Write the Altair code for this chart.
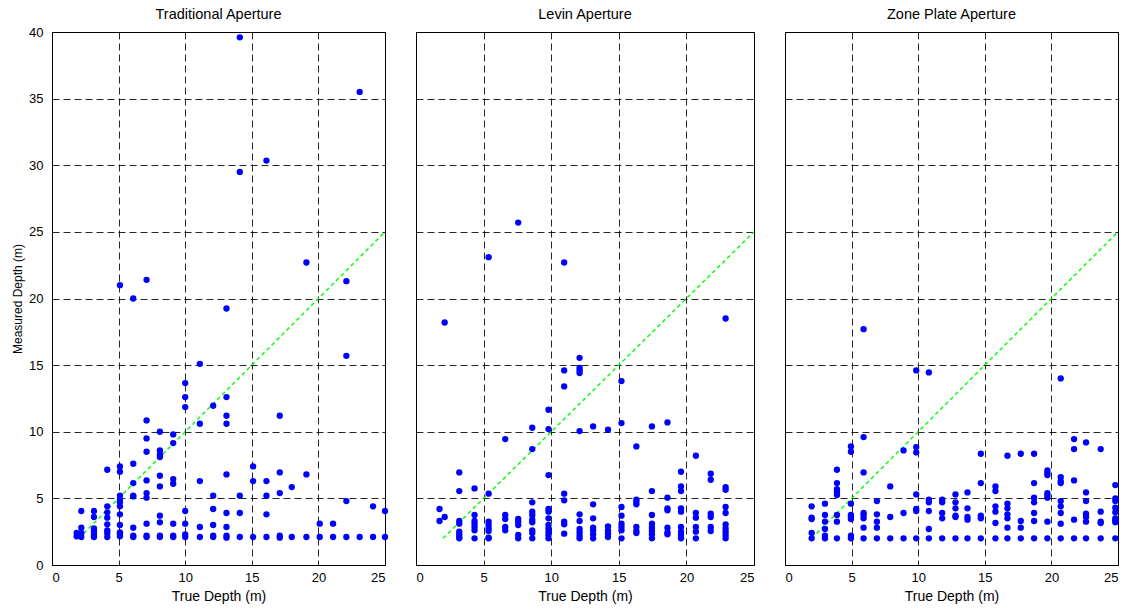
import altair as alt
import pandas as pd

FONT = "Liberation Sans"

# True depth of each test position (m) and the depths measured there (m)
trad_true = [1.85, 2.2, 3.15, 4.15, 5.1, 6.1, 7.1, 8.1, 9.1, 10.0, 11.1, 12.1,
             13.1, 14.1, 15.1, 16.1, 17.1, 18.0, 19.1, 20.1, 21.1, 22.1, 23.1,
             24.1, 25.0]
trad_measured = [
    [2.4, 2.15],
    [4.05, 2.8, 2.4, 2.1],
    [4.05, 3.6, 2.75, 2.55, 2.4, 2.2, 2.1],
    [7.15, 4.4, 3.95, 3.55, 3.05, 2.6, 2.4, 2.1],
    [21.0, 7.4, 7.0, 5.2, 4.9, 4.7, 4.4, 3.8, 3.0, 2.45, 2.3, 2.15],
    [20.0, 7.6, 6.15, 5.2, 5.15, 2.8, 2.2, 2.1],
    [21.4, 10.85, 9.5, 8.5, 6.35, 5.4, 5.05, 3.1, 2.2, 2.1],
    [10.0, 8.6, 8.3, 8.1, 6.7, 5.9, 3.7, 3.2, 2.2, 2.1],
    [9.8, 9.15, 6.45, 6.1, 3.1, 2.2, 2.1],
    [13.65, 12.6, 11.85, 4.05, 3.1, 2.3, 2.1],
    [15.1, 10.6, 6.3, 2.85, 2.1],
    [11.95, 5.2, 4.2, 3.0, 2.2, 2.1],
    [19.25, 12.6, 11.2, 10.6, 6.8, 3.9, 2.85, 2.2, 2.05],
    [39.6, 29.5, 5.2, 3.9, 2.1],
    [7.4, 6.3, 2.1],
    [30.35, 6.3, 5.2, 3.8, 2.1],
    [11.2, 6.95, 5.4, 2.2, 2.05],
    [5.85, 2.1],
    [22.7, 6.8, 2.1],
    [3.1, 2.1],
    [3.1, 2.1],
    [21.3, 15.7, 4.8, 2.1],
    [35.5, 2.1],
    [4.4, 2.1],
    [4.05, 2.1],
]

levin_true = [1.74, 2.12, 3.2, 4.33, 5.37, 6.6, 7.56, 8.6, 9.8, 10.96, 12.1,
              13.1, 14.2, 15.2, 16.3, 17.45, 18.6, 19.6, 20.7, 21.8, 22.9]
levin_measured = [
    [4.2, 3.3],
    [18.2, 3.6],
    [6.95, 5.55, 3.3, 3.1, 2.5, 2.3, 2.1, 2.0],
    [5.75, 3.75, 3.3, 3.1, 2.85, 2.6, 2.0],
    [23.1, 5.35, 3.25, 3.0, 2.75, 2.55, 2.05, 2.0],
    [9.45, 3.75, 3.45, 2.85, 2.6],
    [25.7, 3.45, 3.25, 3.0, 2.25, 2.0],
    [10.3, 8.7, 4.7, 4.0, 3.75, 3.4, 3.2, 2.6, 2.4, 2.0],
    [11.65, 10.2, 6.75, 4.2, 4.0, 3.5, 3.0, 2.75, 2.5, 2.25, 2.0],
    [22.7, 14.6, 13.4, 5.35, 4.85, 3.25, 3.05, 2.35],
    [15.55, 14.8, 14.6, 14.4, 10.05, 3.8, 3.3, 2.7, 2.45, 2.2, 2.0],
    [10.4, 4.55, 3.5, 2.8, 2.6, 2.3, 2.0],
    [10.15, 2.9, 2.6, 2.35, 2.1],
    [13.8, 10.65, 4.35, 3.7, 3.1, 2.85, 2.6, 2.0],
    [8.9, 4.9, 4.75, 4.55, 2.85, 2.55, 2.4],
    [10.4, 5.55, 3.75, 3.1, 2.8, 2.55, 2.3, 2.0],
    [10.7, 5.05, 4.25, 4.1, 2.8, 2.45, 2.3],
    [7.0, 5.9, 5.55, 4.25, 4.0, 2.85, 2.5, 2.25, 2.0],
    [8.2, 3.9, 3.55, 2.85, 2.5, 2.0],
    [6.85, 6.4, 3.85, 3.6, 2.85, 2.55],
    [18.5, 5.85, 5.65, 4.35, 3.9, 3.05, 2.75, 2.5, 2.25, 2.0],
]

zone_true = [2.0, 3.0, 3.9, 4.95, 5.9, 6.9, 7.9, 8.9, 9.85, 10.8, 11.8, 12.8,
             13.7, 14.7, 15.8, 16.7, 17.7, 18.7, 19.7, 20.7, 21.7, 22.6, 23.7,
             24.8]
zone_measured = [
    [4.4, 3.55, 3.45, 2.4, 2.0],
    [4.6, 3.75, 3.25, 2.7, 2.2, 2.0],
    [7.15, 6.15, 5.7, 5.5, 5.25, 3.75, 3.25, 2.0],
    [8.9, 8.5, 4.6, 3.75, 3.6, 3.45, 2.2, 2.0],
    [17.7, 9.6, 6.95, 3.9, 3.75, 3.5, 2.8, 2.0],
    [4.8, 3.8, 3.25, 2.8, 2.0],
    [5.9, 3.6, 2.0],
    [8.6, 3.9, 2.0],
    [14.6, 8.85, 8.45, 5.3, 4.2, 4.05, 2.0],
    [14.45, 4.9, 4.7, 4.05, 2.7, 2.0],
    [4.9, 4.7, 3.9, 3.5, 2.0],
    [5.3, 4.7, 4.25, 3.7, 3.6, 2.0],
    [5.45, 4.25, 3.6, 3.4, 2.0],
    [8.35, 6.15, 3.7, 3.5, 2.0],
    [5.9, 5.55, 4.4, 4.0, 3.15, 2.0],
    [8.2, 4.6, 4.25, 3.8, 3.5, 2.8, 2.0],
    [8.35, 3.3, 2.8, 2.0],
    [8.35, 6.15, 5.05, 4.7, 3.9, 3.3, 2.0],
    [7.1, 6.9, 6.75, 5.4, 5.25, 5.05, 3.25, 2.0],
    [14.0, 6.6, 6.3, 6.15, 4.8, 4.4, 3.9, 3.1, 2.0],
    [9.45, 8.7, 6.35, 3.4, 2.0],
    [9.2, 5.45, 4.8, 3.85, 3.6, 3.25, 2.0],
    [8.7, 4.0, 3.25, 3.15, 2.0],
    [6.0, 5.0, 4.8, 4.3, 3.95, 3.5, 3.35, 3.2, 2.0],
]

# Ideal response: measured == true
ideal_depth = [2, 25]

x_ticks = [0, 5, 10, 15, 20, 25]
y_ticks = [0, 5, 10, 15, 20, 25, 30, 35, 40]


def to_frame(true_vals, measured_lists):
    rows = [(t, m) for t, ms in zip(true_vals, measured_lists) for m in ms]
    return pd.DataFrame(rows, columns=["true", "measured"])


ideal = pd.DataFrame({"true": ideal_depth, "measured": ideal_depth})


def panel(true_vals, measured_lists, title, width, show_y):
    x_enc = alt.X(
        "true:Q",
        scale=alt.Scale(domain=[0, 25], nice=False, zero=False),
        axis=alt.Axis(values=x_ticks, title="True Depth (m)"),
    )
    y_axis_args = dict(values=y_ticks)
    if show_y:
        y_axis_args["title"] = "Measured Depth (m)"
    else:
        y_axis_args["labels"] = False
        y_axis_args["title"] = ""
    y_enc = alt.Y(
        "measured:Q",
        scale=alt.Scale(domain=[0, 40], nice=False),
        axis=alt.Axis(**y_axis_args),
    )
    points = (
        alt.Chart(to_frame(true_vals, measured_lists))
        .mark_circle(color="#0000ff", size=40, opacity=1)
        .encode(x=x_enc, y=y_enc)
    )
    diag = (
        alt.Chart(ideal)
        .mark_line(color="#00ff00", strokeWidth=1.4, strokeDash=[4, 3])
        .encode(x="true:Q", y="measured:Q")
    )
    # the first panel's "40" label reaches above the frame, so its title
    # needs a smaller offset to sit level with the others
    return alt.layer(diag, points).properties(
        width=width,
        height=533,
        title=alt.TitleParams(title, offset=4 if show_y else 10),
    )


chart = (
    alt.hconcat(
        panel(trad_true, trad_measured, "Traditional Aperture", 333, True),
        panel(levin_true, levin_measured, "Levin Aperture", 338, False),
        panel(zone_true, zone_measured, "Zone Plate Aperture", 333, False),
        spacing=31,
    )
    .properties(
        bounds="flush",
        padding={"left": 11, "top": 6, "right": 4, "bottom": 4},
        background="white",
    )
    .configure_view(stroke="black", strokeWidth=1)
    .configure_axis(
        domain=False,
        ticks=False,
        grid=True,
        gridColor="#000000",
        gridDash=[7, 4],
        gridWidth=1,
        gridOpacity=0.85,
        labelFont=FONT,
        labelFontSize=13,
        labelColor="#000000",
        titleFont=FONT,
        titleFontSize=14,
        titleFontWeight="normal",
        titleColor="#000000",
    )
    .configure_axisX(labelPadding=6, titlePadding=5)
    .configure_axisY(labelPadding=9, titlePadding=4, titleFontSize=12)
    .configure_title(
        font=FONT, fontSize=14.5, fontWeight="normal", color="#000000"
    )
)

chart.save("out.html", embed_options={"renderer": "svg", "actions": False})
